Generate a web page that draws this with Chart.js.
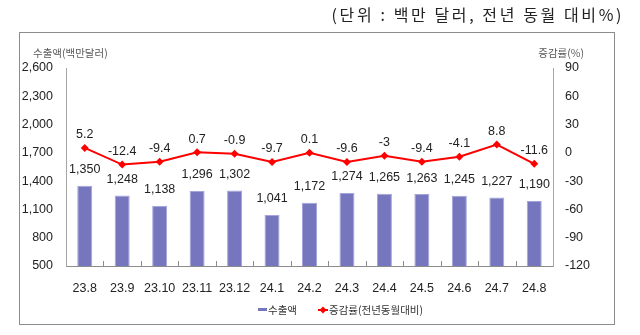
<!DOCTYPE html>
<html>
<head>
<meta charset="utf-8">
<script src="https://cdn.jsdelivr.net/npm/chart.js@4"></script>
<style>
  html, body { margin: 0; padding: 0; background: #fff; }
  #wrap { width: 640px; height: 335px; }
</style>
</head>
<body>
<div id="wrap"><canvas id="c" width="640" height="335"></canvas></div>
<script>
// Monthly exports (million USD) and year-on-year change (%)
const months = ['23.8', '23.9', '23.10', '23.11', '23.12', '24.1', '24.2', '24.3', '24.4', '24.5', '24.6', '24.7', '24.8'];
const exportValues = [1350, 1248, 1138, 1296, 1302, 1041, 1172, 1274, 1265, 1263, 1245, 1227, 1190];
const growthRates = [5.2, -12.4, -9.4, 0.7, -0.9, -9.7, 0.1, -9.6, -3, -9.4, -4.1, 8.8, -11.6];
const leftTickValues = [500, 800, 1100, 1400, 1700, 2000, 2300, 2600];
const rightTickValues = [-120, -90, -60, -30, 0, 30, 60, 90];

const BAR_COLOR = '#7676be';
const LINE_COLOR = '#ff0000';
const LABEL_FONT = '12.5px "Liberation Sans", Arial, sans-serif';
const KR_FONT = '"Noto Sans CJK KR", sans-serif';

const fmt = v => v.toLocaleString('en-US');

const decor = {
  id: 'decor',
  beforeDraw(chart) {
    const ctx = chart.ctx;
    ctx.save();
    ctx.fillStyle = '#fff';
    ctx.fillRect(0, 0, chart.width, chart.height);
    ctx.strokeStyle = '#8c8c8c';
    ctx.lineWidth = 1;
    ctx.strokeRect(19.5, 32.5, 595, 292);
    ctx.restore();
  },
  afterDraw(chart) {
    const ctx = chart.ctx;
    const area = chart.chartArea;
    const xs = chart.scales.x;
    ctx.save();

    // unit note
    ctx.fillStyle = '#222';
    ctx.font = '16px ' + KR_FONT;
    ctx.textAlign = 'right';
    ctx.textBaseline = 'middle';
    ctx.letterSpacing = '2.6px';
    ctx.fillText('(단위 : 백만 달러, 전년 동월 대비%)', 624, 15);
    ctx.letterSpacing = '0px';

    // axis titles
    ctx.fillStyle = '#595959';
    ctx.font = '10.5px ' + KR_FONT;
    ctx.textAlign = 'left';
    ctx.fillText('수출액(백만달러)', 33, 53);
    ctx.textAlign = 'right';
    ctx.fillText('증감률(%)', 584, 53);

    // inner tick marks between categories
    ctx.strokeStyle = '#8c8c8c';
    ctx.lineWidth = 1;
    ctx.beginPath();
    for (let i = 0; i < months.length - 1; i++) {
      const x = Math.round((xs.getPixelForValue(i) + xs.getPixelForValue(i + 1)) / 2) + 0.5;
      ctx.moveTo(x, area.bottom - 5);
      ctx.lineTo(x, area.bottom);
    }
    ctx.stroke();

    // value labels
    ctx.fillStyle = '#222';
    ctx.font = LABEL_FONT;
    ctx.textAlign = 'center';
    ctx.textBaseline = 'middle';
    const barMeta = chart.getDatasetMeta(0);
    barMeta.data.forEach((el, i) => {
      ctx.fillText(fmt(exportValues[i]), el.x, el.y - 16);
    });
    const lineMeta = chart.getDatasetMeta(1);
    lineMeta.data.forEach((el, i) => {
      ctx.fillText(String(growthRates[i]), el.x, el.y - 13);
    });

    // legend
    ctx.fillStyle = BAR_COLOR;
    ctx.fillRect(258, 308, 9, 3);
    ctx.fillStyle = '#333';
    ctx.font = '10.5px ' + KR_FONT;
    ctx.textAlign = 'left';
    ctx.fillText(chart.data.datasets[0].label, 268, 310);
    ctx.strokeStyle = LINE_COLOR;
    ctx.lineWidth = 2;
    ctx.beginPath();
    ctx.moveTo(318, 310);
    ctx.lineTo(328, 310);
    ctx.stroke();
    ctx.fillStyle = LINE_COLOR;
    ctx.beginPath();
    ctx.moveTo(323, 306.5);
    ctx.lineTo(326.5, 310);
    ctx.lineTo(323, 313.5);
    ctx.lineTo(319.5, 310);
    ctx.closePath();
    ctx.fill();
    ctx.fillStyle = '#333';
    ctx.fillText(chart.data.datasets[1].label, 329, 310);

    ctx.restore();
  }
};

new Chart(document.getElementById('c'), {
  type: 'bar',
  data: {
    labels: months,
    datasets: [
      {
        type: 'bar',
        label: '수출액',
        data: exportValues,
        yAxisID: 'y',
        backgroundColor: BAR_COLOR,
        borderColor: '#a4a4dc',
        borderWidth: 1,
        categoryPercentage: 1,
        barPercentage: 0.4,
        order: 2
      },
      {
        type: 'line',
        label: '증감률(전년동월대비)',
        data: growthRates,
        yAxisID: 'y1',
        borderColor: LINE_COLOR,
        backgroundColor: LINE_COLOR,
        borderWidth: 2,
        pointStyle: 'rectRot',
        pointRadius: 4,
        pointBorderWidth: 0,
        tension: 0,
        order: 1
      }
    ]
  },
  options: {
    responsive: false,
    animation: false,
    devicePixelRatio: 1,
    layout: { padding: { left: 19, right: 25, top: 68, bottom: 0 } },
    plugins: {
      legend: { display: false },
      title: { display: false },
      tooltip: { enabled: false }
    },
    scales: {
      x: {
        offset: true,
        grid: { display: false, drawTicks: false },
        border: { display: true, color: '#8c8c8c', width: 1 },
        ticks: { color: '#222', font: { family: '"Liberation Sans", Arial, sans-serif', size: 12.5 }, padding: 15, maxRotation: 0, autoSkip: false },
        afterFit(s) { s.height = 69; }
      },
      y: {
        position: 'left',
        min: 500,
        max: 2600,
        grid: { display: false, drawTicks: false },
        border: { display: true, color: '#a6a6a6', width: 1 },
        afterBuildTicks(s) { s.ticks = leftTickValues.map(v => ({ value: v })); },
        ticks: { color: '#222', font: { family: '"Liberation Sans", Arial, sans-serif', size: 12.5 }, padding: 13, callback: v => fmt(v) },
        afterFit(s) { s.width = 47; }
      },
      y1: {
        position: 'right',
        min: -120,
        max: 90,
        grid: { display: false, drawTicks: false },
        border: { display: true, color: '#a6a6a6', width: 1 },
        afterBuildTicks(s) { s.ticks = rightTickValues.map(v => ({ value: v })); },
        ticks: { color: '#222', font: { family: '"Liberation Sans", Arial, sans-serif', size: 12.5 }, padding: 12, callback: v => String(v) },
        afterFit(s) { s.width = 62; }
      }
    }
  },
  plugins: [decor]
});
</script>
</body>
</html>
